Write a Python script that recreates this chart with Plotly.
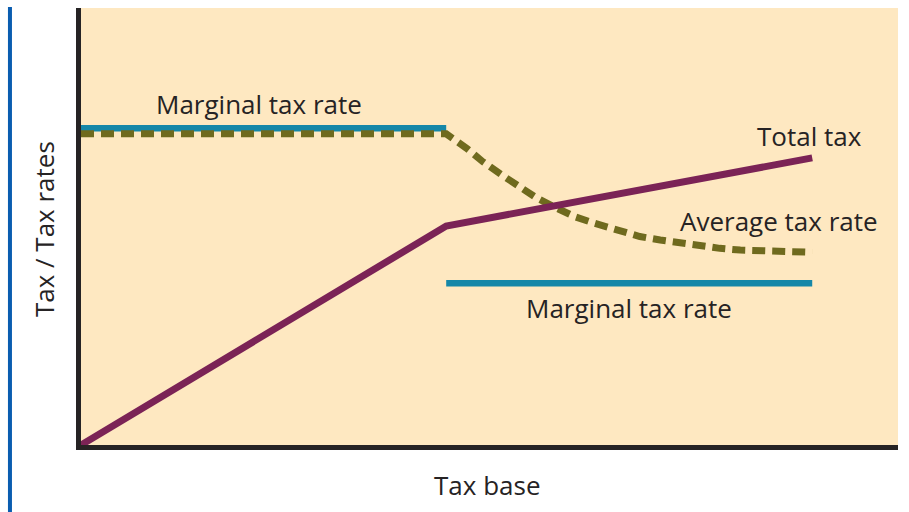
import plotly.graph_objects as go

# Tax base positions (arbitrary units) and the threshold where the rate drops
base_total = [0, 44.7, 89.5]
total_tax = [0, 50.1, 65.7]

marginal_low_base = [0, 44.7]
marginal_low_rate = [72.5, 72.5]
marginal_high_base = [44.7, 89.5]
marginal_high_rate = [37.0, 37.0]

avg_base = [0, 44.7, 47.2, 49.2, 51.5, 53.7, 55.8, 58.0, 60.5, 62.9, 65.6,
            68.4, 70.9, 73.3, 75.8, 78.2, 80.7, 83.9, 86.4, 89.5]
avg_rate = [71.2, 71.2, 67.9, 64.8, 61.8, 59.1, 56.5, 54.4, 52.2, 50.7, 49.2,
            47.7, 46.9, 46.2, 45.5, 45.0, 44.6, 44.3, 44.2, 44.1]

BLUE = "#1587A8"
OLIVE = "#6F6A1E"
PURPLE = "#7B2356"
PEACH = "#FEE8C1"
INK = "#262324"
FONT = "Open Sans"
SIZE = 26

fig = go.Figure()

fig.add_trace(go.Scatter(x=marginal_low_base, y=marginal_low_rate, mode="lines",
                         line=dict(color=BLUE, width=6.5), hoverinfo="skip"))
fig.add_trace(go.Scatter(x=marginal_high_base, y=marginal_high_rate, mode="lines",
                         line=dict(color=BLUE, width=6.5), hoverinfo="skip"))
fig.add_trace(go.Scatter(x=avg_base, y=avg_rate, mode="lines",
                         line=dict(color=OLIVE, width=7, dash="13px,7px"),
                         hoverinfo="skip"))
fig.add_trace(go.Scatter(x=base_total, y=total_tax, mode="lines",
                         line=dict(color=PURPLE, width=7), hoverinfo="skip"))

labels = [
    ("Marginal tax rate", 21.8, 78.0),
    ("Total tax", 89.2, 70.7),
    ("Average tax rate", 85.4, 51.3),
    ("Marginal tax rate", 67.1, 31.4),
]
annotations = [
    dict(text=t, x=x, y=y, xref="x", yref="y", showarrow=False,
         xanchor="center", yanchor="middle",
         font=dict(family=FONT, size=SIZE, color=INK))
    for t, x, y in labels
]
annotations.append(dict(text="Tax base", x=0.4975, y=-0.0915, xref="paper", yref="paper",
                        showarrow=False, xanchor="center", yanchor="middle",
                        font=dict(family=FONT, size=SIZE, color=INK)))
annotations.append(dict(text="Tax / Tax rates", x=-0.0453, y=0.494, xref="paper", yref="paper",
                        showarrow=False, xanchor="center", yanchor="middle", textangle=-90,
                        font=dict(family=FONT, size=SIZE, color=INK)))

fig.update_layout(
    width=909, height=512,
    margin=dict(l=81, r=11, t=8, b=67),
    paper_bgcolor="white",
    plot_bgcolor=PEACH,
    showlegend=False,
    annotations=annotations,
    shapes=[dict(type="rect", xref="paper", yref="paper",
                 x0=-0.0894, x1=-0.0845, y0=-0.1533, y1=1.0023,
                 fillcolor="#0A5DB0", line=dict(width=0), layer="above")],
)
axis_style = dict(showline=True, linewidth=5, linecolor=INK, showgrid=False,
                  zeroline=False, ticks="", showticklabels=False, fixedrange=True)
fig.update_xaxes(range=[0, 100], **axis_style)
fig.update_yaxes(range=[0, 100], **axis_style)

fig.write_html("out.html")
